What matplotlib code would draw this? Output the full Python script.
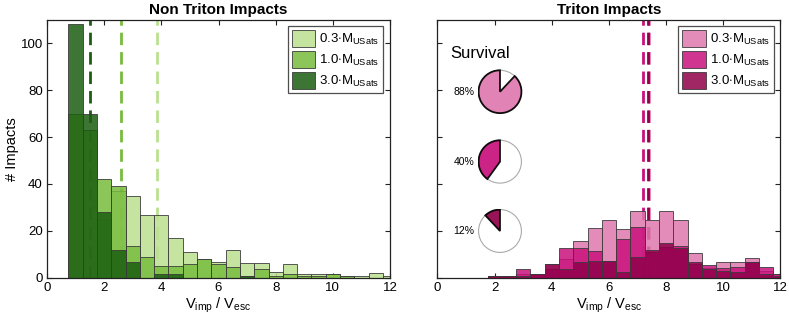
import numpy as np
import matplotlib
matplotlib.use("Agg")
import matplotlib.pyplot as plt
from matplotlib.patches import Wedge, Circle

plt.rcParams['font.family'] = ['Liberation Sans', 'DejaVu Sans']
plt.rcParams['mathtext.fontset'] = 'custom'
plt.rcParams['mathtext.rm'] = 'Liberation Sans'
plt.rcParams['mathtext.it'] = 'Liberation Sans:italic'

# ---------------- data ----------------
bin_centers = [1.0, 1.5, 2.0, 2.5, 3.0, 3.5, 4.0, 4.5, 5.0, 5.5, 6.0, 6.5,
               7.0, 7.5, 8.0, 8.5, 9.0, 9.5, 10.0, 10.5, 11.0, 11.5, 12.0]
mass_labels = ["0.3", "1.0", "3.0"]

# Non Triton impacts
nt_03 = [0, 0, 25, 37, 35, 26.7, 26.7, 16.8, 10.8, 7.8, 6.5, 11.8,
         6.4, 6.4, 2.6, 5.7, 1.4, 1.4, 1.4, 0.7, 0.7, 1.8, 0.7]
nt_10 = [70, 63, 42, 39, 13.6, 8.7, 5, 5, 5.7, 7.8, 5.7, 4.7,
         0.7, 3.6, 0.7, 1.6, 0.7, 0.7, 1.4, 0.7, 0, 0, 0]
nt_30 = [108, 70, 28, 11.8, 6.5, 0, 1.6, 1.6, 0, 0, 0, 0,
         0.7, 0, 0, 0, 0, 0, 0, 0, 0, 0, 0]
nt_medians = [3.85, 2.6, 1.5]

# Triton impacts
tr_03 = [0, 0, 0.7, 0.7, 1.5, 1.6, 5.7, 8, 15.8, 21.3, 24.6, 20.6,
         28.6, 24.6, 28.6, 24.6, 10.4, 4, 6.5, 6.5, 8.5, 3, 1.6]
tr_10 = [0, 0, 0.7, 0.7, 3.7, 1.6, 3.7, 12.5, 12.5, 11.5, 7, 16.5,
         21.5, 11, 13, 13.6, 6, 5.4, 4, 4.7, 6.5, 4.4, 1.6]
tr_30 = [0, 0, 0.7, 0.7, 0.7, 1.6, 5.7, 3.6, 6.6, 7.3, 7.3, 2.6,
         8.7, 11.8, 14.7, 12.5, 6.6, 3.6, 2.8, 2.6, 6.5, 1.6, 0.7]
tr_medians = [7.4, 7.2, 7.38]

survival_pct = [88, 40, 12]

greens = ["#bbe08f", "#78bc3d", "#1b5e10"]
pinks = ["#df78ae", "#c8117c", "#8f0049"]
ALPHA = 0.85
bin_width = 0.5

W, H = 789, 328
fig = plt.figure(figsize=(W / 100, H / 100), dpi=100)

def px_axes(x0, y0, x1, y1):
    return fig.add_axes([x0 / W, 1 - y1 / H, (x1 - x0) / W, (y1 - y0) / H])

axL = px_axes(47, 19.8, 390, 277.7)
axR = px_axes(437.5, 19.8, 780.5, 277.7)

def draw_panel(ax, series, colors, medians, title):
    for med, c in zip(medians, colors):
        ax.axvline(med, color=c, lw=2.0, dashes=(4.5, 2.5), zorder=1)
    for vals, c, lab in zip(series, colors, mass_labels):
        ax.bar(bin_centers, vals, width=bin_width, color=c, alpha=ALPHA,
               edgecolor="#3a3a3a", linewidth=0.7, zorder=2,
               label=lab + r"$\cdot\mathrm{M}_{\mathrm{USats}}$")
    ax.set_xlim(0, 12)
    ax.set_ylim(0, 110)
    ax.set_xticks([0, 2, 4, 6, 8, 10, 12])
    ax.set_yticks([0, 20, 40, 60, 80, 100])
    ax.tick_params(direction="in", top=True, right=True, length=3.5,
                   width=0.8, labelsize=9.5, color="#222222", pad=3)
    for s in ax.spines.values():
        s.set_linewidth(0.9)
        s.set_color("#222222")
    ax.set_title(title, fontsize=11, fontweight="bold", pad=4)
    ax.set_xlabel(r"$\mathrm{V}_{\mathrm{imp}}$ / $\mathrm{V}_{\mathrm{esc}}$",
                  fontsize=10.5, labelpad=1)
    leg = ax.legend(loc="upper right", fontsize=9.5, frameon=True, fancybox=False,
                    edgecolor="#222222", borderpad=0.3, handlelength=1.8,
                    handleheight=1.6, handletextpad=0.3, labelspacing=0.3,
                    borderaxespad=0.5)
    leg.get_frame().set_linewidth(0.9)
    return ax

draw_panel(axL, [nt_03, nt_10, nt_30], greens, nt_medians, "Non Triton Impacts")
axL.set_ylabel("# Impacts", fontsize=10.5, labelpad=1)
draw_panel(axR, [tr_03, tr_10, tr_30], pinks, tr_medians, "Triton Impacts")
axR.set_yticklabels([])

# Survival pies
fig.text(450 / W, 1 - 53 / H, "Survival", fontsize=12, ha="left", va="center")
pie_centers_y = [91.7, 161.7, 231.0]
r = 21.5
for pct, c, cy in zip(survival_pct, pinks, pie_centers_y):
    pax = px_axes(500 - r - 1, cy - r - 1, 500 + r + 1, cy + r + 1)
    pax.set_xlim(-1.05, 1.05)
    pax.set_ylim(-1.05, 1.05)
    pax.set_aspect("equal")
    pax.axis("off")
    pax.add_patch(Circle((0, 0), 1.0, facecolor="white", edgecolor="#aaaaaa", lw=0.8))
    pax.add_patch(Wedge((0, 0), 1.0, 90, 90 + 3.6 * pct, facecolor=c, alpha=0.92,
                        edgecolor="black", lw=1.3))
    fig.text(474 / W, 1 - cy / H, f"{pct}%", fontsize=7.5, ha="right", va="center")

fig.savefig("out.png", dpi=100)
